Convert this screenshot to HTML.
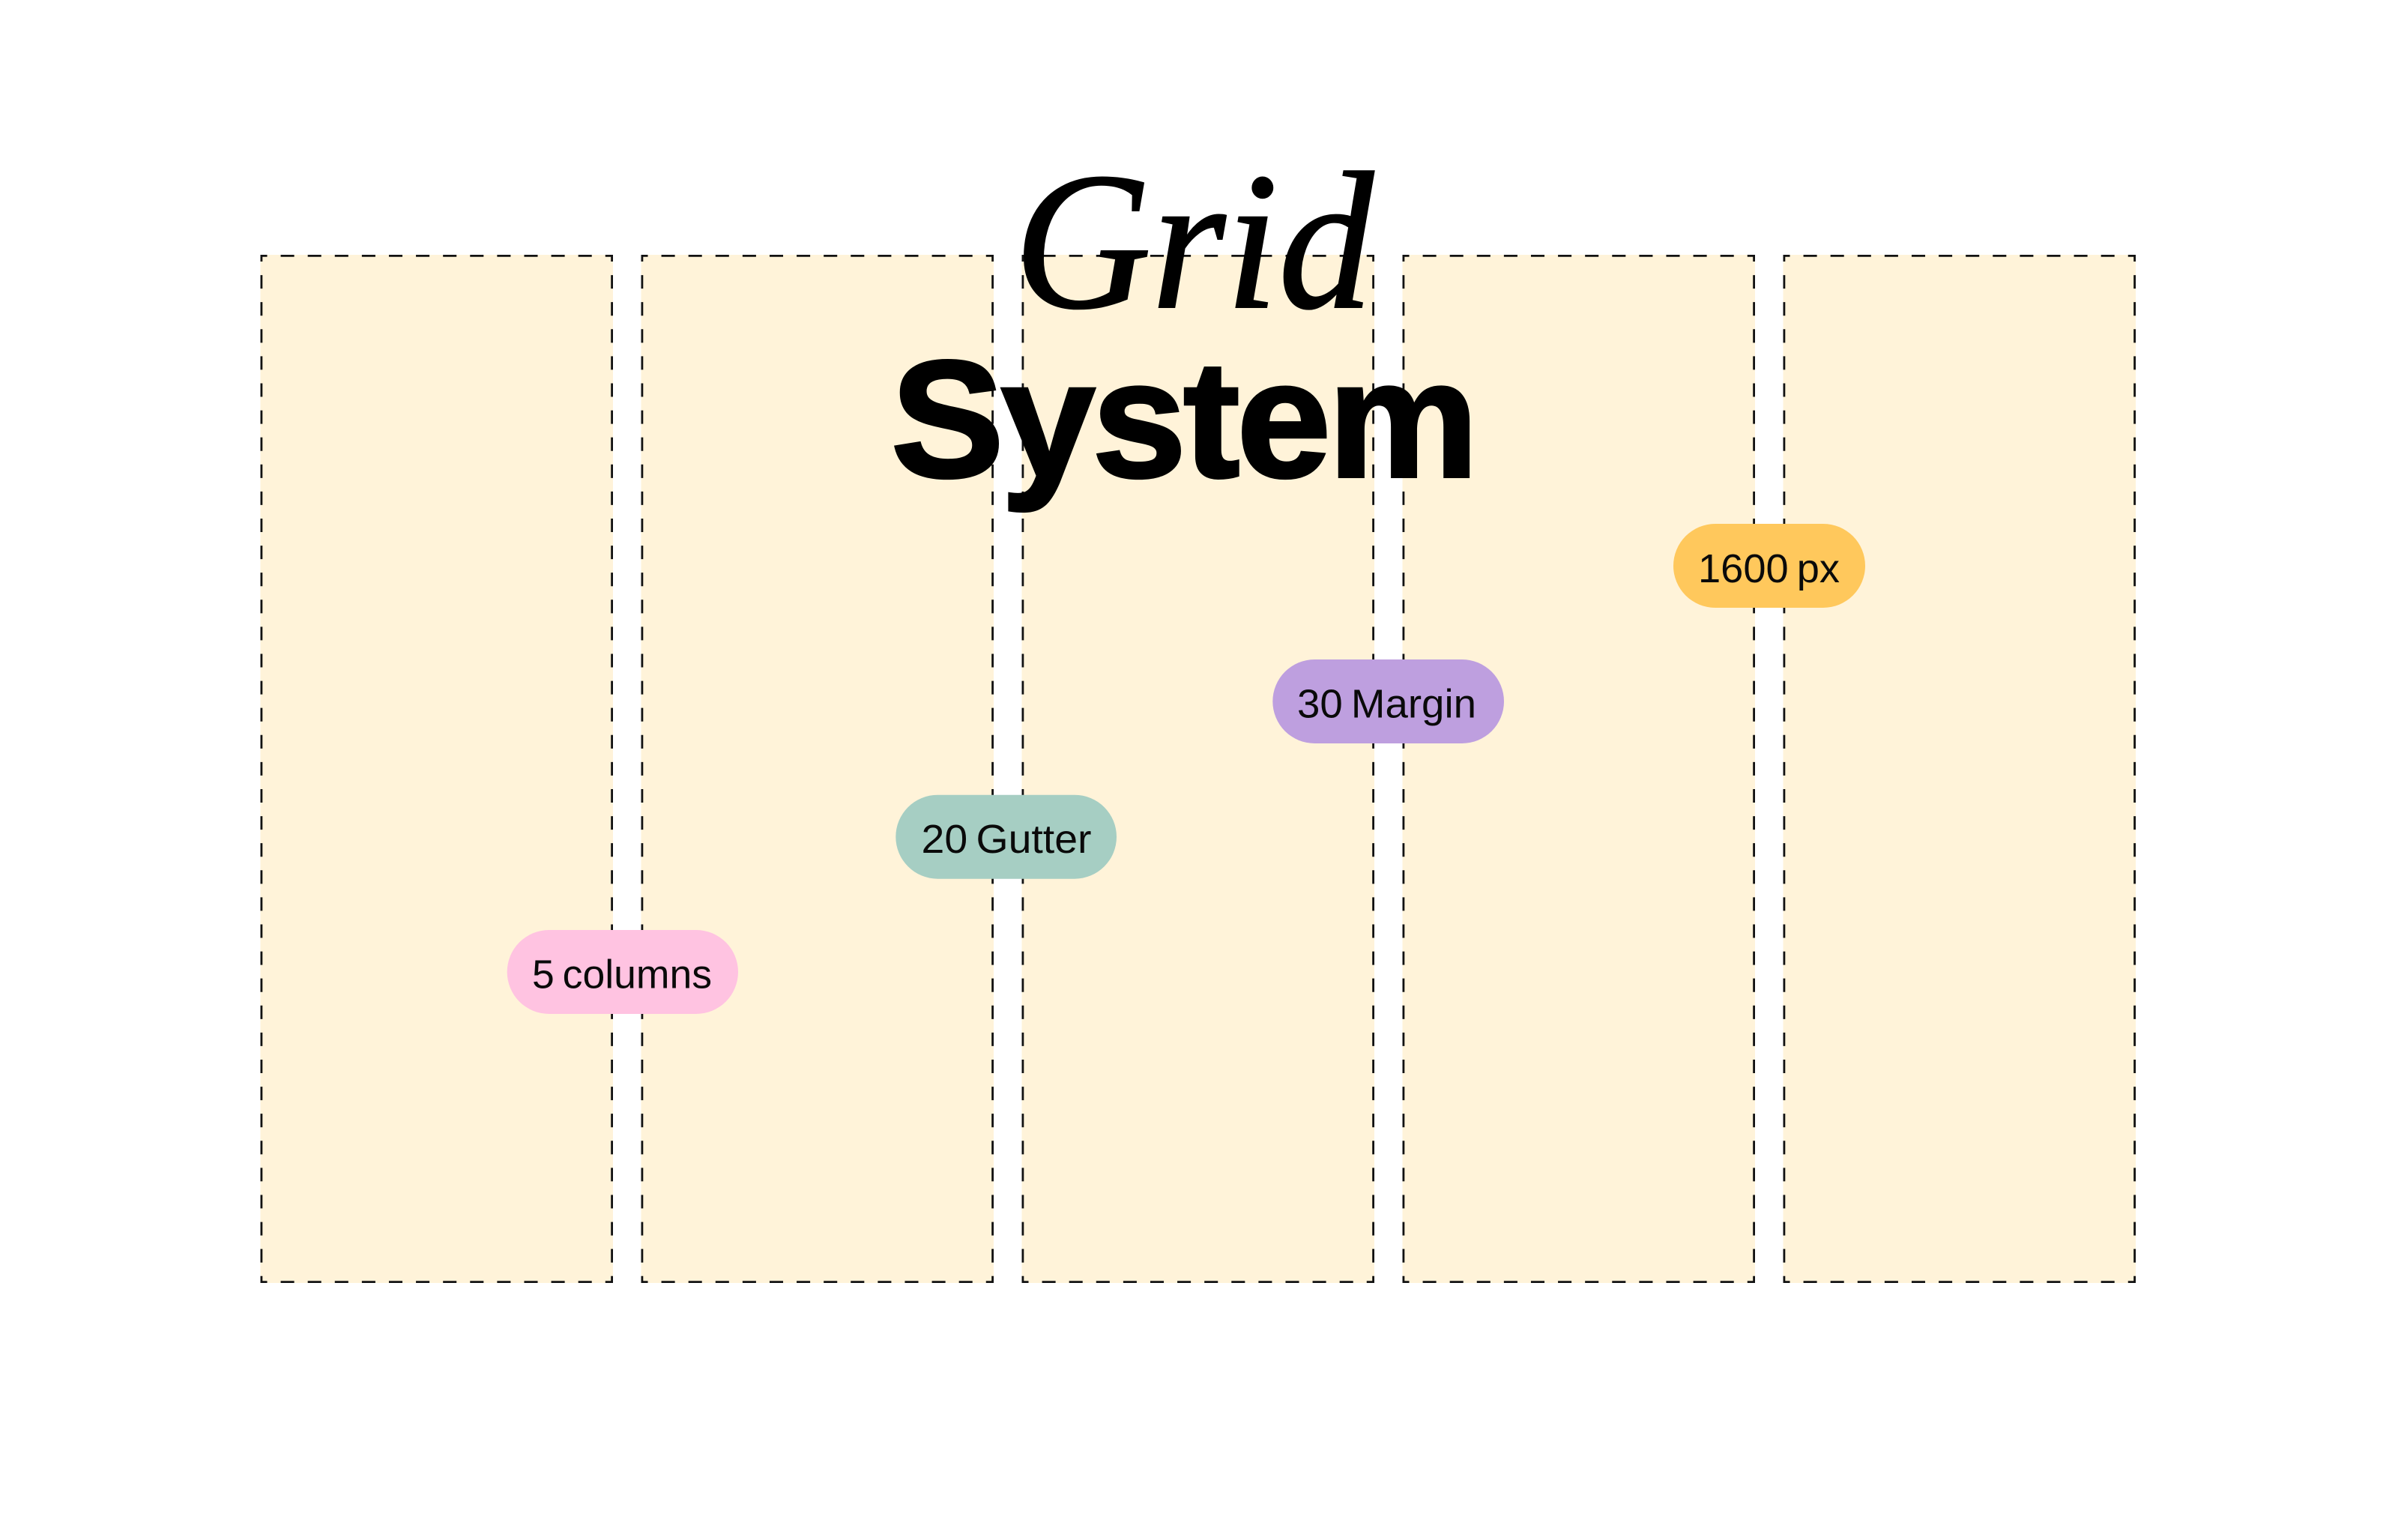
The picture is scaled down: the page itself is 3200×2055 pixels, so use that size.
<!DOCTYPE html>
<html lang="en">
<head>
<meta charset="utf-8">
<title>Grid System</title>
<style>
html,body{margin:0;padding:0;background:#fff;width:3200px;height:2055px;overflow:hidden}
svg{display:block}
.p{font-family:"Liberation Sans",sans-serif;font-size:54px;fill:#0a0a0a;word-spacing:-4px}
</style>
</head>
<body>
<svg width="3200" height="2055" viewBox="0 0 3200 2055" xmlns="http://www.w3.org/2000/svg">
<defs>
<g id="col">
<rect x="0" y="0" width="470.5" height="1372" fill="#FFF3D9"/>
<g fill="none" stroke="#111" stroke-width="2.8" stroke-dasharray="18.05 18.05" stroke-dashoffset="9.03">
<line x1="0" y1="1.4" x2="470.5" y2="1.4"/>
<line x1="0" y1="1370.6" x2="470.5" y2="1370.6"/>
<line x1="1.4" y1="0" x2="1.4" y2="1372"/>
<line x1="469.1" y1="0" x2="469.1" y2="1372"/>
</g>
</g>
</defs>
<rect width="3200" height="2055" fill="#fff"/>
<use href="#col" x="347.5" y="340"/>
<use href="#col" x="855.5" y="340"/>
<use href="#col" x="1363.5" y="340"/>
<use href="#col" x="1871.5" y="340"/>
<use href="#col" x="2379.5" y="340"/>

<text x="1353" y="410" font-family="'Liberation Serif',serif" font-style="italic" font-size="262" fill="#000" stroke="#000" stroke-width="2" textLength="480" lengthAdjust="spacingAndGlyphs">Grid</text>
<text x="1189" y="636" font-family="'Liberation Sans',sans-serif" font-weight="700" font-size="222" letter-spacing="-4" fill="#000" stroke="#000" stroke-width="4" textLength="780" lengthAdjust="spacingAndGlyphs">System</text>

<rect x="2233" y="699" width="256" height="112" rx="56" fill="#FFC85C"/>
<text class="p" x="2266" y="777" textLength="189" lengthAdjust="spacingAndGlyphs">1600 px</text>

<rect x="1698.3" y="880" width="308.7" height="112" rx="56" fill="#BE9FDF"/>
<text class="p" x="1731" y="957.5" textLength="239" lengthAdjust="spacingAndGlyphs">30 Margin</text>

<rect x="1195.3" y="1060.7" width="294.7" height="112" rx="56" fill="#A6CEC3"/>
<text class="p" x="1229.5" y="1138" textLength="227" lengthAdjust="spacingAndGlyphs">20 Gutter</text>

<rect x="676.7" y="1241" width="308.3" height="112" rx="56" fill="#FFC3E1"/>
<text class="p" x="710" y="1318.5" textLength="240" lengthAdjust="spacingAndGlyphs">5 columns</text>
</svg>
</body>
</html>
